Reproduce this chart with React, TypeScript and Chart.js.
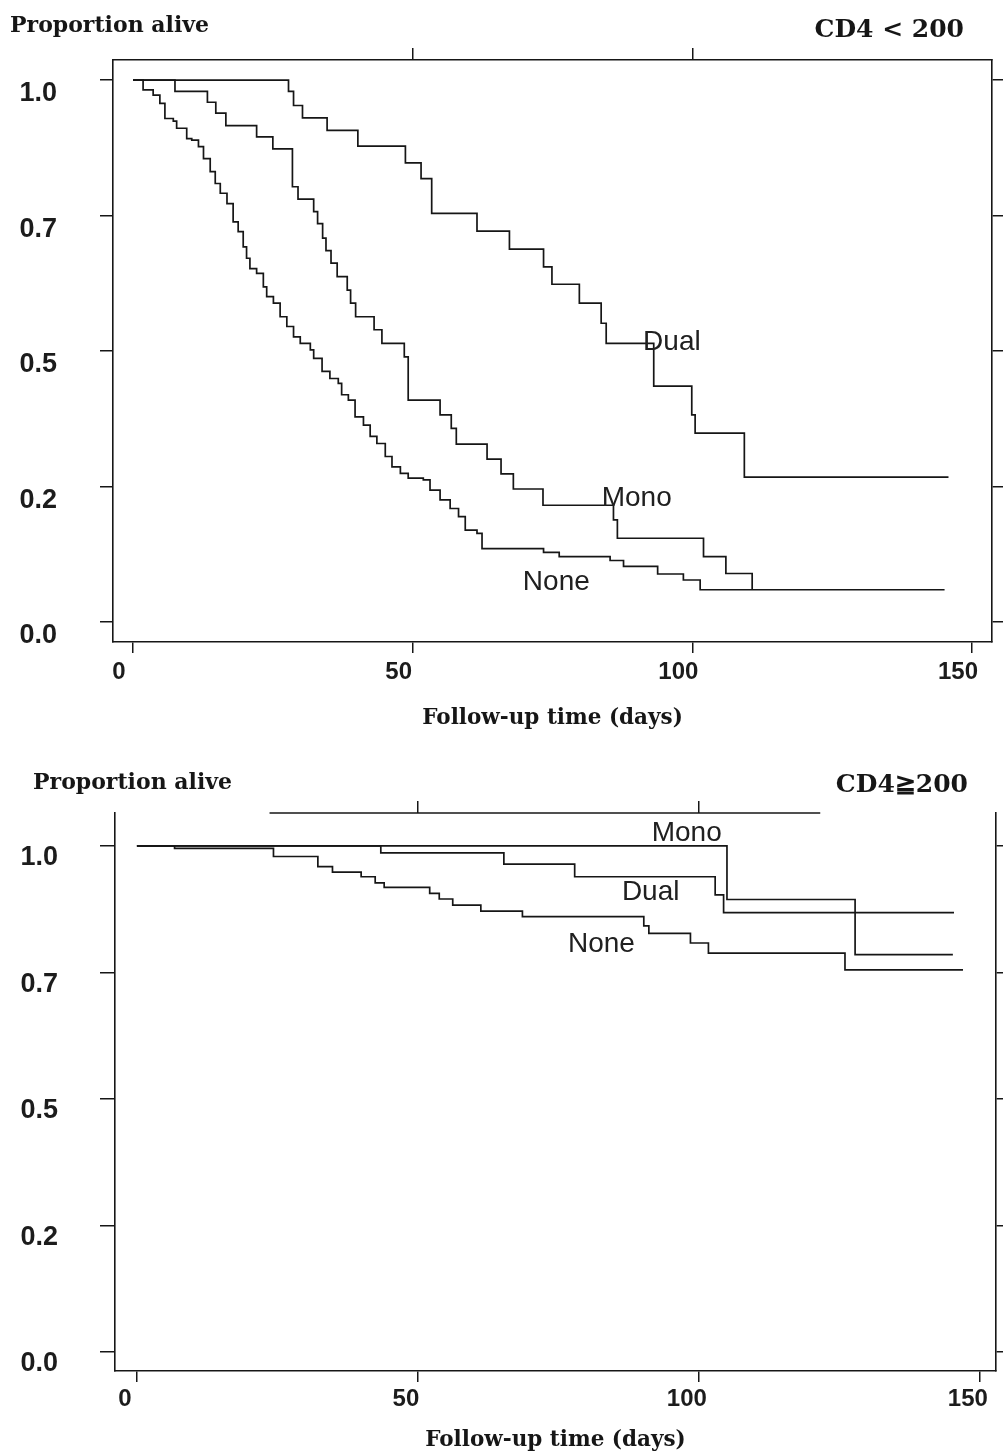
import React, { useEffect, useRef } from 'react';
import { Chart, registerables } from 'chart.js';

Chart.register(...registerables);

// ---------- text ----------
const yAxisTitle = 'Proportion alive';
const xAxisTitle = 'Follow-up time (days)';
const panelTitles = ['CD4 < 200', 'CD4≧200'];
const groupNames = ['Dual', 'Mono', 'None'];

// ---------- ticks ----------
const xTickValues = [0, 50, 100, 150];
const yTickValues = [0, 0.25, 0.5, 0.75, 1];
const yTickLabels = ['0.0', '0.2', '0.5', '0.7', '1.0'];

// ---------- CD4 < 200 (upper panel) ----------
const lowDualDays = [0, 27.8, 28.7, 30.3, 34.7, 40.2, 48.7, 51.5, 53.4, 61.5, 67.3, 73.4, 74.9, 79.8, 83.7, 84.6, 93.1, 99.9, 100.5, 109.3, 145.8];
const lowDualSurv = [1, 0.979, 0.953, 0.93, 0.907, 0.878, 0.847, 0.818, 0.754, 0.721, 0.688, 0.655, 0.623, 0.588, 0.551, 0.514, 0.435, 0.382, 0.348, 0.267, 0.267];

const lowMonoDays = [0, 7.5, 13.3, 14.8, 16.6, 22.1, 25.0, 28.5, 29.5, 32.3, 33.0, 33.9, 34.5, 35.4, 36.5, 38.3, 38.9, 39.8, 43.1, 44.5, 48.5, 49.2, 54.9, 56.9, 57.8, 63.3, 65.8, 68.0, 73.3, 85.9, 86.6, 102.0, 106.0, 110.7];
const lowMonoSurv = [1, 0.979, 0.959, 0.939, 0.916, 0.895, 0.873, 0.803, 0.78, 0.757, 0.735, 0.708, 0.685, 0.662, 0.637, 0.612, 0.588, 0.563, 0.539, 0.514, 0.489, 0.409, 0.382, 0.357, 0.328, 0.3, 0.273, 0.245, 0.215, 0.188, 0.154, 0.12, 0.089, 0.059];

const lowNoneDays = [0, 1.8, 3.6, 4.8, 5.7, 7.2, 7.8, 9.6, 10.5, 11.7, 12.6, 13.8, 14.7, 15.6, 16.8, 17.9, 18.8, 19.7, 20.3, 20.9, 22.1, 23.3, 23.9, 25.1, 26.3, 27.5, 28.7, 29.9, 31.7, 32.3, 33.8, 35.2, 36.7, 37.3, 38.5, 39.7, 41.2, 42.4, 43.6, 45.1, 46.3, 47.8, 49.2, 51.9, 53.1, 54.9, 56.7, 58.2, 59.4, 61.5, 62.4, 73.4, 76.2, 85.3, 87.7, 93.8, 98.4, 101.4, 145.1];
const lowNoneSurv = [1, 0.982, 0.972, 0.957, 0.929, 0.924, 0.911, 0.892, 0.889, 0.877, 0.855, 0.831, 0.809, 0.791, 0.772, 0.738, 0.72, 0.692, 0.671, 0.652, 0.643, 0.618, 0.6, 0.588, 0.563, 0.545, 0.526, 0.514, 0.502, 0.486, 0.462, 0.449, 0.44, 0.419, 0.409, 0.378, 0.363, 0.342, 0.329, 0.305, 0.286, 0.274, 0.265, 0.262, 0.243, 0.225, 0.209, 0.194, 0.169, 0.163, 0.135, 0.128, 0.12, 0.113, 0.102, 0.088, 0.077, 0.059, 0.059];

// ---------- CD4 >= 200 (lower panel) ----------
const highDualDays = [0, 43.4, 65.3, 77.9, 102.9, 104.4, 145.4];
const highDualSurv = [1, 0.986, 0.964, 0.939, 0.903, 0.868, 0.868];

const highMonoDays = [0, 105.0, 127.8, 145.2];
const highMonoSurv = [1, 0.894, 0.785, 0.785];

const highNoneDays = [0, 6.7, 24.3, 32.2, 34.8, 39.9, 42.4, 44.0, 52.1, 53.8, 56.2, 61.2, 68.6, 90.2, 91.1, 98.5, 101.7, 126.0, 147.0];
const highNoneSurv = [1, 0.995, 0.979, 0.959, 0.948, 0.939, 0.927, 0.918, 0.906, 0.895, 0.883, 0.871, 0.86, 0.842, 0.827, 0.808, 0.788, 0.755, 0.755];

// ---------- styling / layout (not data) ----------
const INK = '#161616';
const SERIF = "'DejaVu Serif', serif";
const SANS = "'Liberation Sans', Arial, sans-serif";

type Series = { name: string; days: number[]; surv: number[] };
type Panel = {
  key: string;
  title: string;
  series: Series[];
  canvasTop: number;
  canvasH: number;
  leftW: number;
  rightW: number;
  topH: number;
  bottomH: number;
  xMin: number;
  xMax: number;
  yMin: number;
  yMax: number;
  yTickLen: number;
  yPad: number;
  yLabelOffset: number;
  xLabelOffset: number;
  xPad: number;
  titlePadBottom: number;
  topTicks: number[];
  topBorderSpan: number[] | null;
  headLeftX: number;
  headLeftBase: number;
  headRightX: number;
  headRightBase: number;
  labelAt: { days: number; surv: number }[];
};

const panels: Panel[] = [
  {
    key: 'low',
    title: panelTitles[0],
    series: [
      { name: groupNames[0], days: lowDualDays, surv: lowDualSurv },
      { name: groupNames[1], days: lowMonoDays, surv: lowMonoSurv },
      { name: groupNames[2], days: lowNoneDays, surv: lowNoneSurv },
    ],
    canvasTop: 0,
    canvasH: 740,
    leftW: 113,
    rightW: 11,
    topH: 60,
    bottomH: 98,
    xMin: -3.58,
    xMax: 153.58,
    yMin: -0.0375,
    yMax: 1.037,
    yTickLen: 13,
    yPad: 43,
    yLabelOffset: 14,
    xLabelOffset: -14,
    xPad: 5,
    titlePadBottom: 9,
    topTicks: [50, 100],
    topBorderSpan: null,
    headLeftX: 10,
    headLeftBase: 32,
    headRightX: 964,
    headRightBase: 37,
    labelAt: [
      { days: 91.2, surv: 0.515 },
      { days: 83.8, surv: 0.228 },
      { days: 69.7, surv: 0.073 },
    ],
  },
  {
    key: 'high',
    title: panelTitles[1],
    series: [
      { name: groupNames[0], days: highDualDays, surv: highDualSurv },
      { name: groupNames[1], days: highMonoDays, surv: highMonoSurv },
      { name: groupNames[2], days: highNoneDays, surv: highNoneSurv },
    ],
    canvasTop: 740,
    canvasH: 714,
    leftW: 115,
    rightW: 5,
    topH: 73,
    bottomH: 83,
    xMin: -3.9,
    xMax: 152.85,
    yMin: -0.038,
    yMax: 1.065,
    yTickLen: 15,
    yPad: 42,
    yLabelOffset: 12,
    xLabelOffset: -12,
    xPad: 3,
    titlePadBottom: 1,
    topTicks: [50, 100],
    topBorderSpan: [23.6, 121.6],
    headLeftX: 33,
    headLeftBase: 49,
    headRightX: 968,
    headRightBase: 52,
    labelAt: [
      { days: 86.3, surv: 0.908 },
      { days: 91.6, surv: 1.024 },
      { days: 76.7, surv: 0.806 },
    ],
  },
];

function makeAnnotPlugin(p: Panel) {
  return {
    id: 'annot_' + p.key,
    afterDraw(chart: any) {
      const { ctx, chartArea, scales } = chart;
      ctx.save();
      ctx.fillStyle = INK;
      ctx.textBaseline = 'alphabetic';
      ctx.textAlign = 'left';
      ctx.font = `bold 22px ${SERIF}`;
      ctx.fillText(yAxisTitle, p.headLeftX, p.headLeftBase);
      ctx.textAlign = 'right';
      ctx.font = `bold 25px ${SERIF}`;
      ctx.fillText(p.title, p.headRightX, p.headRightBase);

      ctx.fillStyle = '#202020';
      ctx.font = `28px ${SANS}`;
      ctx.textAlign = 'left';
      ctx.textBaseline = 'middle';
      p.series.forEach((s, i) => {
        const a = p.labelAt[i];
        ctx.fillText(s.name, scales.x.getPixelForValue(a.days), scales.y.getPixelForValue(a.surv));
      });

      if (p.topBorderSpan) {
        ctx.strokeStyle = INK;
        ctx.lineWidth = 1.6;
        ctx.beginPath();
        ctx.moveTo(scales.x.getPixelForValue(p.topBorderSpan[0]), chartArea.top);
        ctx.lineTo(scales.x.getPixelForValue(p.topBorderSpan[1]), chartArea.top);
        ctx.stroke();
      }
      ctx.restore();
    },
  };
}

function buildConfig(p: Panel): any {
  const datasets = p.series.map((s) => ({
    label: s.name,
    data: s.days.map((d, i) => ({ x: d, y: s.surv[i] })),
    stepped: true,
    borderColor: INK,
    borderWidth: 1.7,
    pointRadius: 0,
    fill: false,
    tension: 0,
  }));

  const tickGrid = (len: number) => ({
    display: true,
    drawOnChartArea: false,
    drawTicks: true,
    tickLength: len,
    color: INK,
    lineWidth: 1.5,
  });

  return {
    type: 'line',
    data: { datasets },
    plugins: [makeAnnotPlugin(p)],
    options: {
      animation: false,
      responsive: false,
      maintainAspectRatio: false,
      devicePixelRatio: 1,
      events: [],
      layout: { padding: 0 },
      plugins: { legend: { display: false }, tooltip: { enabled: false }, title: { display: false } },
      scales: {
        x: {
          type: 'linear',
          position: 'bottom',
          min: p.xMin,
          max: p.xMax,
          afterBuildTicks: (s: any) => {
            s.ticks = xTickValues.map((v) => ({ value: v }));
          },
          afterFit: (s: any) => {
            s.height = p.bottomH;
          },
          border: { display: true, color: INK, width: 1.6 },
          grid: tickGrid(11),
          ticks: {
            autoSkip: false,
            maxRotation: 0,
            padding: p.xPad,
            labelOffset: p.xLabelOffset,
            color: '#1c1c1c',
            font: { family: SANS, size: 24, weight: 'bold' },
            callback: (v: any) => String(v),
          },
          title: {
            display: true,
            text: xAxisTitle,
            color: INK,
            font: { family: SERIF, size: 21.5, weight: 'bold' },
            padding: { top: 0, bottom: p.titlePadBottom },
          },
        },
        x2: {
          type: 'linear',
          position: 'top',
          min: p.xMin,
          max: p.xMax,
          afterBuildTicks: (s: any) => {
            s.ticks = p.topTicks.map((v) => ({ value: v }));
          },
          afterFit: (s: any) => {
            s.height = p.topH;
          },
          border: { display: !p.topBorderSpan, color: INK, width: 1.6 },
          grid: tickGrid(12),
          ticks: { display: false },
        },
        y: {
          type: 'linear',
          position: 'left',
          min: p.yMin,
          max: p.yMax,
          afterBuildTicks: (s: any) => {
            s.ticks = yTickValues.map((v) => ({ value: v }));
          },
          afterFit: (s: any) => {
            s.width = p.leftW;
          },
          border: { display: true, color: INK, width: 1.6 },
          grid: tickGrid(p.yTickLen),
          ticks: {
            autoSkip: false,
            padding: p.yPad,
            labelOffset: p.yLabelOffset,
            color: '#1c1c1c',
            font: { family: SANS, size: 27, weight: 'bold' },
            callback: (v: any) => {
              const i = yTickValues.indexOf(v);
              return i >= 0 ? yTickLabels[i] : '';
            },
          },
        },
        y2: {
          type: 'linear',
          position: 'right',
          min: p.yMin,
          max: p.yMax,
          afterBuildTicks: (s: any) => {
            s.ticks = yTickValues.map((v) => ({ value: v }));
          },
          afterFit: (s: any) => {
            s.width = p.rightW;
          },
          border: { display: true, color: INK, width: 1.6 },
          grid: tickGrid(11),
          ticks: { display: false },
        },
      },
    },
  };
}

function PanelChart({ panel }: { panel: Panel }) {
  const ref = useRef<HTMLCanvasElement>(null);
  useEffect(() => {
    if (!ref.current) return;
    const chart = new Chart(ref.current, buildConfig(panel));
    return () => chart.destroy();
  }, [panel]);
  return (
    <canvas
      ref={ref}
      width={1003}
      height={panel.canvasH}
      style={{ position: 'absolute', left: 0, top: panel.canvasTop, width: 1003, height: panel.canvasH, display: 'block' }}
    />
  );
}

export default function App() {
  return (
    <div style={{ position: 'absolute', left: 0, top: 0, width: 1003, height: 1454, background: '#ffffff', overflow: 'hidden' }}>
      {panels.map((p) => (
        <PanelChart key={p.key} panel={p} />
      ))}
    </div>
  );
}
